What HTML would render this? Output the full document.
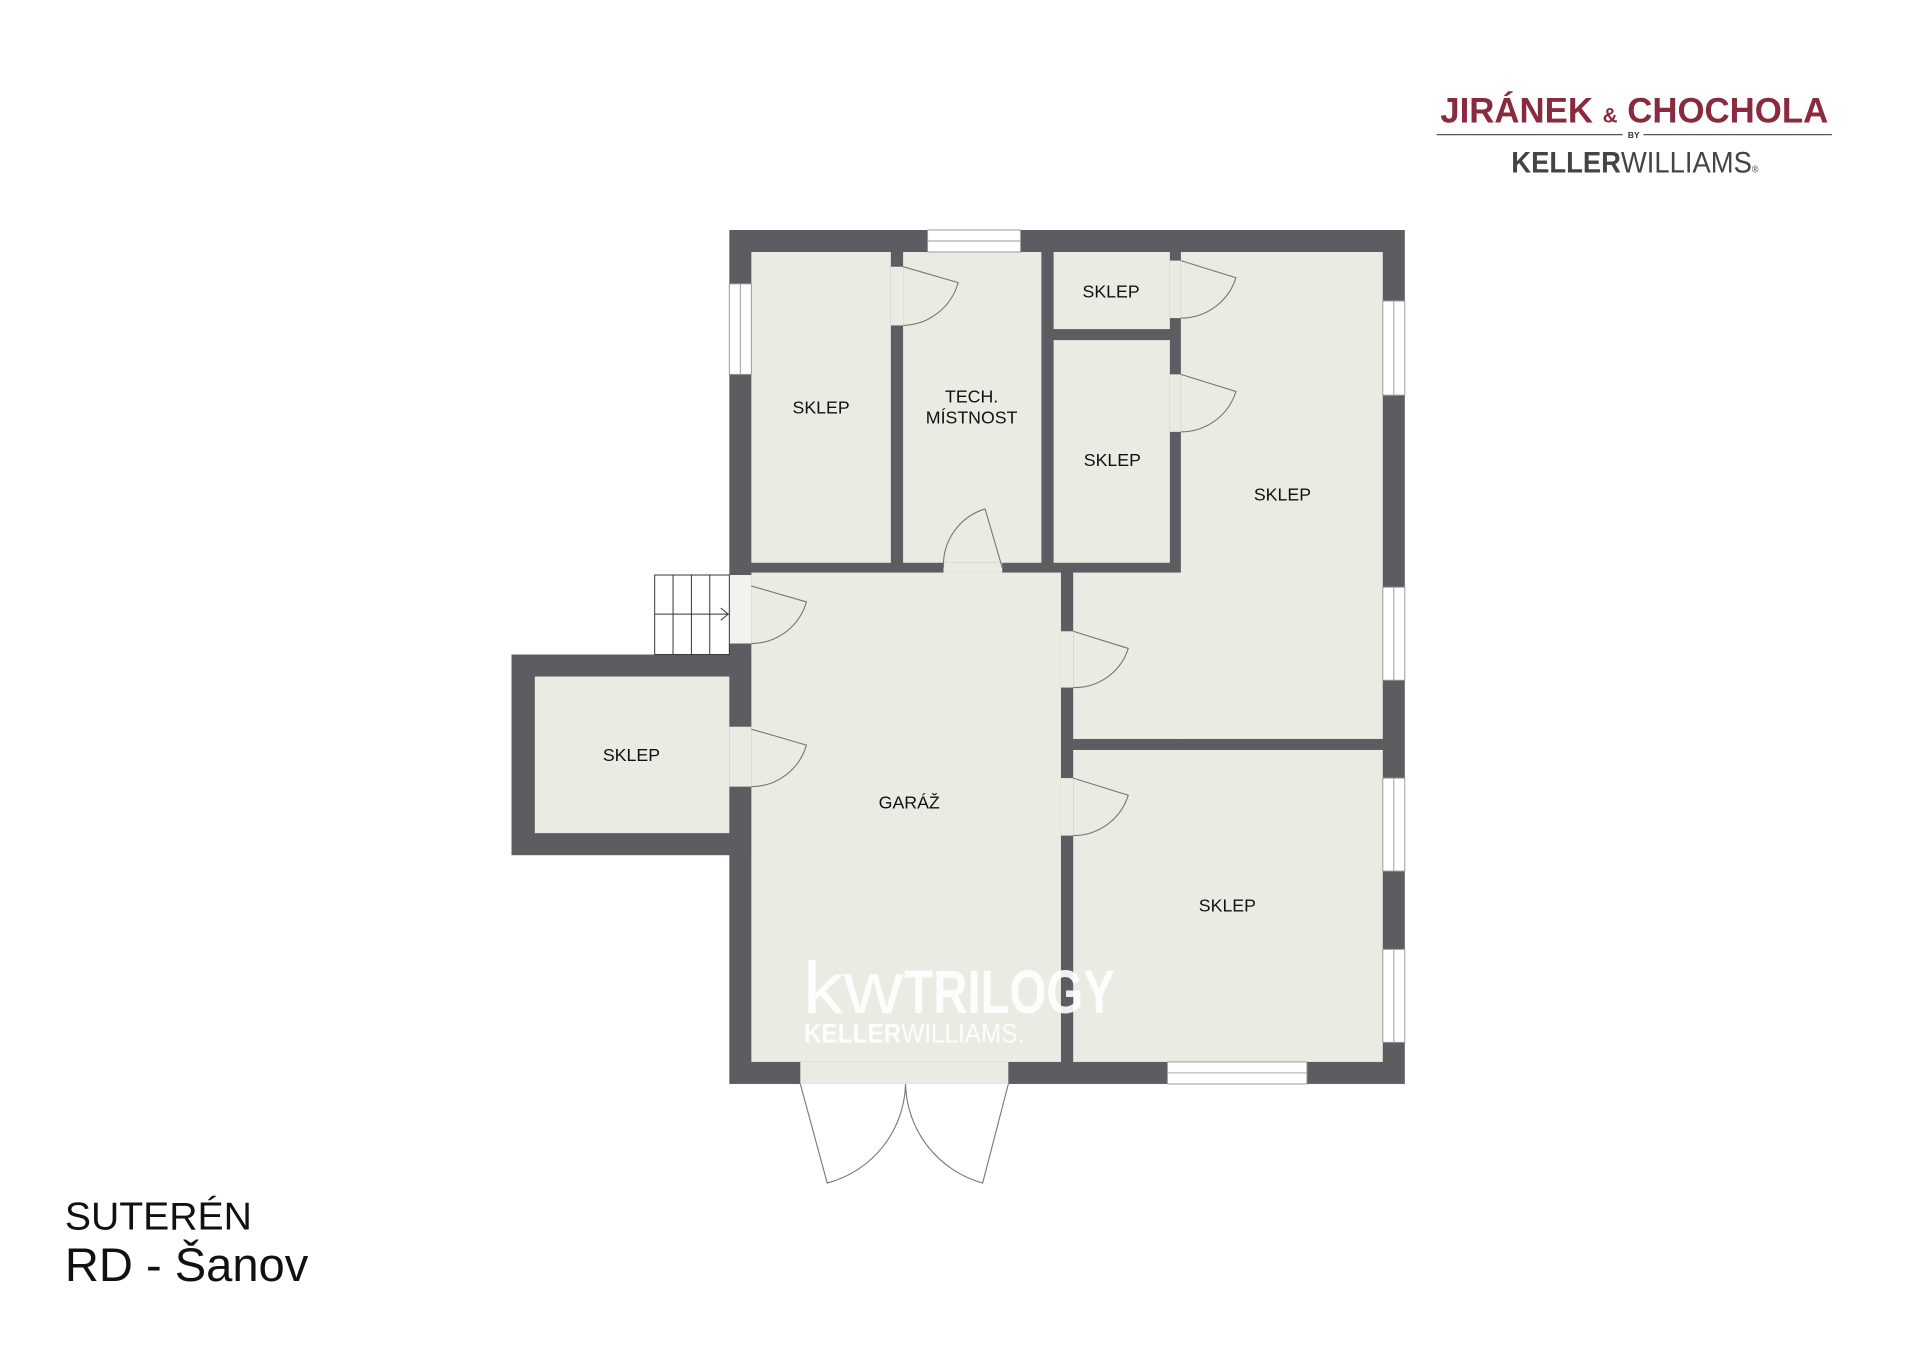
<!DOCTYPE html>
<html><head><meta charset="utf-8"><style>
html,body{margin:0;padding:0;background:#fff}
svg{display:block}
text{font-family:"Liberation Sans",sans-serif}
</style></head><body>
<svg width="1920" height="1358" viewBox="0 0 1569 1110" preserveAspectRatio="none" xmlns="http://www.w3.org/2000/svg">
<rect width="1569" height="1110" fill="#fff"/>
<g fill="#5b5d61">
<rect x="596" y="188" width="552" height="698"/>
<rect x="418" y="535" width="196" height="164"/>
</g>
<g fill="#ebebe4">
<rect x="614" y="206" width="114" height="254"/>
<rect x="738" y="206" width="113" height="254"/>
<rect x="861" y="206" width="95" height="63"/>
<rect x="861" y="278" width="95" height="182"/>
<rect x="965" y="206" width="165" height="398"/>
<rect x="877" y="468" width="90" height="136"/>
<rect x="877" y="613" width="253" height="255"/>
<rect x="614" y="468" width="253" height="400"/>
<rect x="437" y="553" width="159" height="128"/>
<rect x="728" y="218" width="10" height="48"/>
<rect x="771" y="460" width="48" height="8"/>
<rect x="956" y="213" width="9" height="47"/>
<rect x="956" y="306" width="9" height="47"/>
<rect x="867" y="516" width="10" height="46"/>
<rect x="867" y="636" width="10" height="47"/>
<rect x="596" y="594" width="18" height="49"/>
<rect x="654" y="868" width="170" height="18"/>
</g>
<rect x="596" y="470" width="18" height="56" fill="#f2f2ee"/>
<g fill="#fff" stroke="#9a9a9a" stroke-width="0.8">
<rect x="758" y="188" width="76" height="18"/><line x1="758" y1="197" x2="834" y2="197"/>
<rect x="596" y="232" width="18" height="74"/><line x1="605" y1="232" x2="605" y2="306"/>
<rect x="1130" y="246" width="18" height="77"/><line x1="1139" y1="246" x2="1139" y2="323"/>
<rect x="1130" y="480" width="18" height="76"/><line x1="1139" y1="480" x2="1139" y2="556"/>
<rect x="1130" y="636" width="18" height="76"/><line x1="1139" y1="636" x2="1139" y2="712"/>
<rect x="1130" y="776" width="18" height="76"/><line x1="1139" y1="776" x2="1139" y2="852"/>
<rect x="954" y="868" width="114" height="18"/><line x1="954" y1="877" x2="1068" y2="877"/>
</g>
<g fill="#fff" stroke="#333" stroke-width="0.8">
<rect x="535" y="470" width="61" height="65"/>
<line x1="535" y1="502" x2="596" y2="502"/>
<line x1="550" y1="470" x2="550" y2="535"/>
<line x1="565" y1="470" x2="565" y2="535"/>
<line x1="580" y1="470" x2="580" y2="535"/>
<path d="M589 497 L595 502 L589 507" fill="none"/>
</g>
<g fill="none" stroke="#777" stroke-width="0.9">
<path d="M738 218 L783 231 A48 48 0 0 1 738 266"/>
<path d="M819 464 L805 416 A48 48 0 0 0 771 464"/>
<path d="M965 213 L1010 227 A47 47 0 0 1 965 260"/>
<path d="M965 306 L1010 320 A47 47 0 0 1 965 353"/>
<path d="M877 516 L922 530 A46 46 0 0 1 877 562"/>
<path d="M877 636 L922 650 A47 47 0 0 1 877 683"/>
<path d="M614 479 L659 492 A47 47 0 0 1 614 526"/>
<path d="M614 596 L659 609 A47 47 0 0 1 614 643"/>
<path d="M654 886 L676 967 A86 86 0 0 0 740 886"/>
<path d="M824 886 L803 967 A86 86 0 0 1 740 886"/>
</g>
<g font-size="14.5" fill="#111" text-anchor="middle">
<text x="671" y="338">SKLEP</text>
<text x="794" y="329">TECH.</text>
<text x="794" y="346">MÍSTNOST</text>
<text x="908" y="243">SKLEP</text>
<text x="909" y="381">SKLEP</text>
<text x="1048" y="409">SKLEP</text>
<text x="516" y="622">SKLEP</text>
<text x="743" y="661">GARÁŽ</text>
<text x="1003" y="745">SKLEP</text>
</g>
<g fill="#fff" opacity="0.9">
<text x="656" y="828" font-size="60" textLength="82" lengthAdjust="spacingAndGlyphs">kw</text>
<text x="739" y="828" font-size="50" font-weight="bold" textLength="172" lengthAdjust="spacingAndGlyphs">TRILOGY</text>
<text x="657" y="852" font-size="22" textLength="180" lengthAdjust="spacingAndGlyphs"><tspan font-weight="bold">KELLER</tspan>WILLIAMS.</text>
</g>
<text x="1177" y="100" font-size="28.7" font-weight="bold" fill="#8a2a3f" textLength="317" lengthAdjust="spacingAndGlyphs">JIRÁNEK <tspan font-size="17">&amp;</tspan> CHOCHOLA</text>
<line x1="1174" y1="110" x2="1326" y2="110" stroke="#555" stroke-width="1"/>
<line x1="1343" y1="110" x2="1497" y2="110" stroke="#555" stroke-width="1"/>
<text x="1335" y="113" font-size="7" font-weight="bold" fill="#333" text-anchor="middle">BY</text>
<text x="1235" y="141" font-size="24.5" fill="#444" textLength="202" lengthAdjust="spacingAndGlyphs"><tspan font-weight="bold">KELLER</tspan>WILLIAMS<tspan font-size="8">®</tspan></text>
<text x="53" y="1005" font-size="32" fill="#111">SUTERÉN</text>
<text x="53" y="1047" font-size="38.5" fill="#111">RD - Šanov</text>
</svg>
</body></html>
